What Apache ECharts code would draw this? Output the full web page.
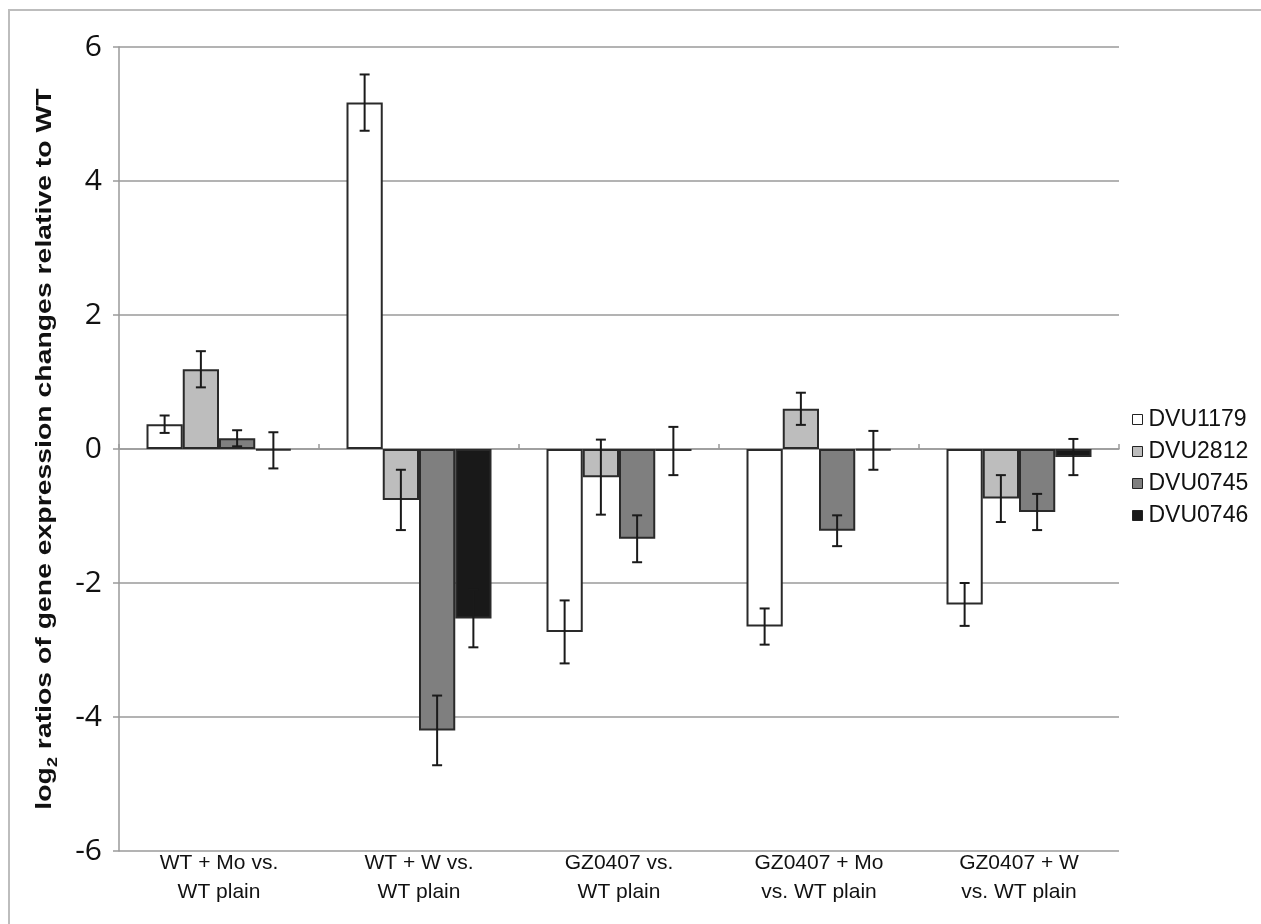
<!DOCTYPE html>
<html>
<head>
<meta charset="utf-8">
<script src="https://cdn.jsdelivr.net/npm/echarts@6/dist/echarts.min.js"></script>
<style>html,body{margin:0;padding:0;background:#fff;}#c{width:1261px;height:924px;}</style>
</head>
<body>
<div id="c"></div>
<script>
const categories = ['WT + Mo vs.\nWT plain', 'WT + W vs.\nWT plain', 'GZ0407 vs.\nWT plain', 'GZ0407 + Mo\nvs. WT plain', 'GZ0407 + W\nvs. WT plain'];
const seriesNames = ['DVU1179', 'DVU2812', 'DVU0745', 'DVU0746'];
const DVU1179 = [0.37, 5.17, -2.73, -2.65, -2.32];
const DVU1179_err = [0.13, 0.42, 0.47, 0.27, 0.32];
const DVU2812 = [1.19, -0.76, -0.42, 0.60, -0.74];
const DVU2812_err = [0.27, 0.45, 0.56, 0.24, 0.35];
const DVU0745 = [0.16, -4.20, -1.34, -1.22, -0.94];
const DVU0745_err = [0.12, 0.52, 0.35, 0.23, 0.27];
const DVU0746 = [-0.02, -2.53, -0.03, -0.02, -0.12];
const DVU0746_err = [0.27, 0.43, 0.36, 0.29, 0.27];
const yTicks = { min: -6, max: 6, interval: 2 };
const yTitle = '{a|log}{s|2}{a| ratios of gene expression changes relative to WT}';

const values = [DVU1179, DVU2812, DVU0745, DVU0746];
const errs = [DVU1179_err, DVU2812_err, DVU0745_err, DVU0746_err];
const colors = ['#ffffff', '#bdbdbd', '#7f7f7f', '#191919'];
const GAP = 0.275;

const chart = echarts.init(document.getElementById('c'), null, { renderer: 'canvas' });

const barSeries = seriesNames.map((n, i) => ({
  name: n, type: 'bar', xAxisIndex: 0, yAxisIndex: 0,
  data: values[i], barGap: '0%', barCategoryGap: (GAP * 100) + '%',
  itemStyle: { color: colors[i], borderColor: '#2a2a2a', borderWidth: 2 },
  emphasis: { disabled: true }, z: 3
}));

const errSeries = seriesNames.map((n, i) => ({
  type: 'custom', xAxisIndex: 0, yAxisIndex: 0, z: 5, silent: true,
  data: values[i].map((v, k) => [k, v, errs[i][k]]),
  renderItem: function (params, api) {
    const k = api.value(0), v = api.value(1), e = api.value(2);
    const band = api.size([1, 0])[0];
    const bw = band * (1 - GAP) / 4;
    const c = api.coord([k, v]);
    const x = c[0] + (i - 1.5) * bw;
    const yT = api.coord([k, v + e])[1];
    const yB = api.coord([k, v - e])[1];
    const cap = 5;
    const st = { stroke: '#1a1a1a', lineWidth: 2 };
    return { type: 'group', children: [
      { type: 'line', shape: { x1: x, y1: yT, x2: x, y2: yB }, style: st },
      { type: 'line', shape: { x1: x - cap, y1: yT, x2: x + cap, y2: yT }, style: st },
      { type: 'line', shape: { x1: x - cap, y1: yB, x2: x + cap, y2: yB }, style: st }
    ]};
  }
}));

chart.setOption({
  animation: false,
  backgroundColor: '#ffffff',
  graphic: [
    { type: 'rect', shape: { x: 9, y: 10, width: 1300, height: 1000 }, style: { fill: 'none', stroke: '#bdbdbd', lineWidth: 2 }, z: 0 },
    { type: 'text', x: 43, y: 449, rotation: Math.PI / 2, scaleX: 1.29, z: 10,
      style: {
        text: yTitle, align: 'center', verticalAlign: 'middle',
        rich: {
          a: { fontFamily: 'Liberation Sans', fontWeight: 'bold', fontSize: 22, fill: '#111', lineHeight: 25, verticalAlign: 'bottom' },
          s: { fontFamily: 'Liberation Sans', fontWeight: 'bold', fontSize: 14, fill: '#111', lineHeight: 25, verticalAlign: 'bottom', padding: [0, 0, -5, 0] }
        }
      }
    }
  ],
  grid: { left: 119, right: 142, top: 47, bottom: 73, containLabel: false },
  legend: {
    orient: 'vertical', left: 1132, top: 408, padding: 0,
    itemWidth: 10, itemHeight: 10, itemGap: 9,
    icon: 'rect',
    data: seriesNames,
    itemStyle: { borderWidth: 1, borderColor: '#222' },
    textStyle: { fontFamily: 'Liberation Sans', fontSize: 23, color: '#111', padding: [0, 0, 0, 1] }
  },
  xAxis: [{
    type: 'category', data: categories, position: 'bottom',
    axisLine: { show: false, onZero: false }, axisTick: { show: false },
    axisLabel: { interval: 0, fontFamily: 'Liberation Sans', fontSize: 21, color: '#111', lineHeight: 29, margin: -2 },
    splitLine: { show: false }
  }, {
    type: 'category', data: categories,
    axisLine: { show: true, onZero: true, lineStyle: { color: '#9a9a9a', width: 1.5 } },
    axisTick: { show: true, length: 5, lineStyle: { color: '#9a9a9a', width: 1.5 } },
    axisLabel: { show: false }, splitLine: { show: false }
  }],
  yAxis: {
    type: 'value', min: yTicks.min, max: yTicks.max, interval: yTicks.interval,
    axisLine: { show: true, lineStyle: { color: '#9a9a9a', width: 1.5 } },
    axisTick: { show: true, length: 6, lineStyle: { color: '#9a9a9a', width: 1.5 } },
    splitLine: { show: true, lineStyle: { color: '#9a9a9a', width: 1.5 } },
    axisLabel: { fontFamily: 'Open Sans', fontSize: 30, color: '#111', margin: 17 }
  },
  series: barSeries.concat(errSeries)
});
</script>
</body>
</html>
